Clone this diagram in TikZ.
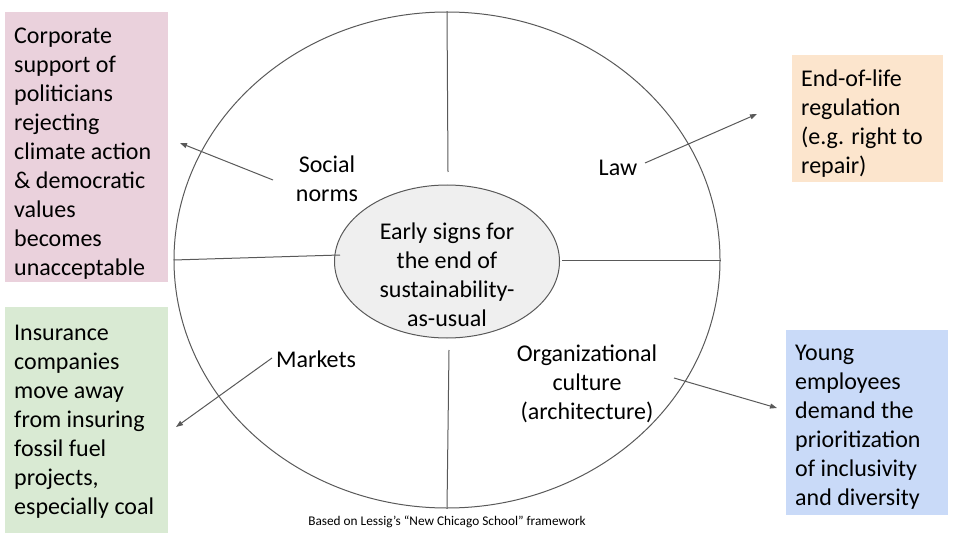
\documentclass[tikz,border=0pt]{standalone}
\usepackage{fontspec}
\setmainfont{Carlito}
\usetikzlibrary{shapes.geometric,arrows.meta}
\definecolor{pinkbox}{HTML}{EAD1DC}
\definecolor{orangebox}{HTML}{FCE5CD}
\definecolor{greenbox}{HTML}{D9EAD3}
\definecolor{bluebox}{HTML}{C9DAF8}
\definecolor{coregray}{HTML}{EFEFEF}
\definecolor{linegray}{HTML}{595959}
\tikzset{
  sidebox/.style={anchor=north west, inner sep=0pt},
  boxtext/.style={anchor=west, align=left, inner sep=0pt,
    font=\fontsize{24}{29}\selectfont},
  lbl/.style={align=center, font=\fontsize{24}{29}\selectfont},
  pointer/.style={draw=linegray, line width=1pt, -{Triangle[length=7pt,width=5pt]}},
  divider/.style={draw=linegray, line width=1pt}
}
\begin{document}
\begin{tikzpicture}[x=1pt,y=-1pt]
\useasboundingbox (0,0) rectangle (960,540);

% the four boxes
\node[sidebox, fill=pinkbox, minimum width=163pt, minimum height=270pt] (social box) at (5,12) {};
\node[sidebox, fill=orangebox, minimum width=151pt, minimum height=127pt] (law box) at (792,55) {};
\node[sidebox, fill=greenbox, minimum width=163pt, minimum height=226pt] (market box) at (5,307) {};
\node[sidebox, fill=bluebox, minimum width=162pt, minimum height=185pt] (culture box) at (786,330) {};

\node[boxtext] (social text) at ([shift={(9,6)}]social box.west)
  {Corporate\\support of\\politicians\\rejecting\\climate action\\\& democratic\\values\\becomes\\unacceptable};
\node[boxtext] (law text) at ([shift={(9,5)}]law box.west)
  {End-of-life\\regulation\\(e.g. right to\\repair)};
\node[boxtext] (market text) at ([shift={(9,2)}]market box.west)
  {Insurance\\companies\\move away\\from insuring\\fossil fuel\\projects,\\especially coal};
\node[boxtext] (culture text) at ([shift={(9,5)}]culture box.west)
  {Young\\employees\\demand the\\prioritization\\of inclusivity\\and diversity};

% ellipses
\node[ellipse, draw=linegray, line width=1pt, minimum width=546pt, minimum height=496pt] (frame) at (447,260) {};
\node[ellipse, draw=linegray, fill=coregray, line width=1pt, minimum width=225pt, minimum height=153pt] (core) at (447,261.5) {};
\node[lbl] (core text) at (447,275) {Early signs for\\the end of\\sustainability-\\as-usual};

% dividers
\coordinate (top end) at (448,172);
\coordinate (bottom end) at (449,350);
\coordinate (left end) at (340,255);
\coordinate (right end) at (562,260);
\draw[divider] (frame.north) -- (top end);
\draw[divider] (bottom end) -- (frame.south);
\draw[divider] (frame.west) -- (left end);
\draw[divider] (right end) -- (frame.east);

% quadrant labels
\node[lbl] (social) at (327,178.5) {Social\\norms};
\node[lbl] (law) at (618,168) {Law};
\node[lbl] (markets) at (316,359) {Markets};
\node[lbl] (culture) at (587,384) {Organizational\\culture\\(architecture)};

% pointers
\coordinate (social from) at (273,180);
\coordinate (social to) at (180,143);
\coordinate (law from) at (645,163);
\coordinate (law to) at (757,114);
\coordinate (market from) at (272,358);
\coordinate (market to) at (176,427);
\coordinate (culture from) at (674,378);
\coordinate (culture to) at (777,408);
\draw[pointer] (social from) -- (social to);
\draw[pointer] (law from) -- (law to);
\draw[pointer] (market from) -- (market to);
\draw[pointer] (culture from) -- (culture to);

\node[font=\fontsize{13.3}{15}\selectfont] (source) at (447,522) {Based on Lessig’s “New Chicago School” framework};
\end{tikzpicture}
\end{document}
